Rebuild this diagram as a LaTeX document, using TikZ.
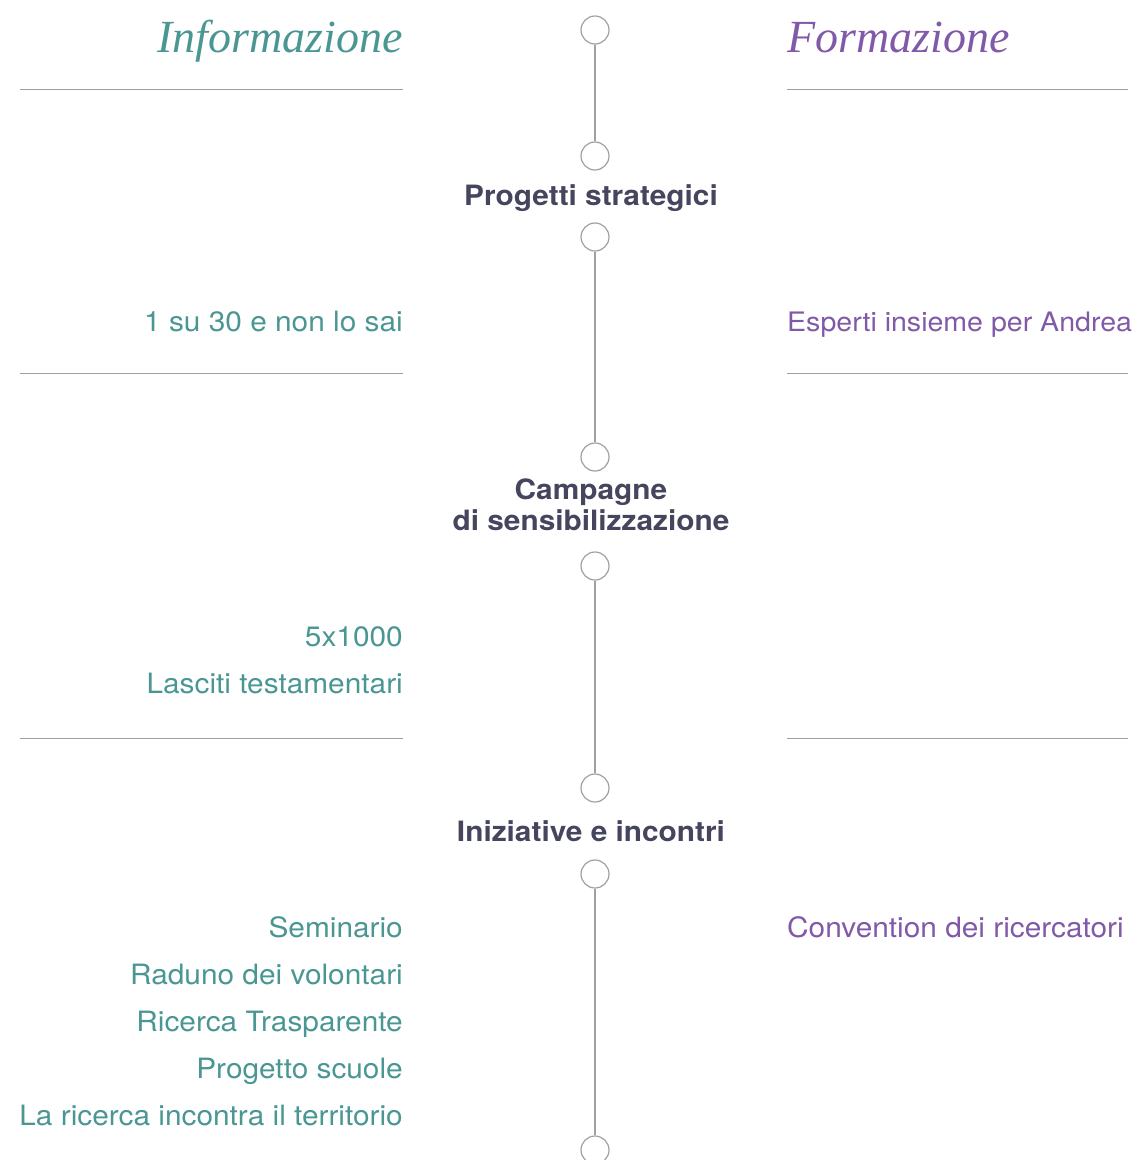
\documentclass[tikz,border=0pt]{standalone}
\usepackage{fontspec}
\setmainfont{TeX Gyre Heros}[FakeStretch=1.065]
\newfontfamily\titlefont{Liberation Serif}
\usepackage{tikz}

\definecolor{infocol}{HTML}{4A9693}
\definecolor{formcol}{HTML}{8059A8}
\definecolor{headcol}{HTML}{45465E}
\definecolor{rulecol}{HTML}{A0A0A0}

\begin{document}
\begin{tikzpicture}[x=1pt, y=-1pt,
  dot/.style={circle, draw=rulecol, line width=1.2pt, fill=white, minimum size=28pt, inner sep=0pt},
  link/.style={draw=rulecol, line width=1.2pt},
  sep/.style={draw=rulecol, line width=1pt},
  title/.style={font=\titlefont\itshape\fontsize{46}{50}\selectfont, inner sep=0pt},
  head/.style={font=\bfseries\fontsize{28}{31}\selectfont, text=headcol, align=center, inner sep=0pt},
  info/.style={font=\fontsize{28}{31}\selectfont, text=infocol, anchor=base east, inner sep=0pt},
  form/.style={font=\fontsize{28}{31}\selectfont, text=formcol, anchor=base west, inner sep=0pt}]
  \useasboundingbox (0,0) rectangle (1141,1160);

  % titles
  \node[title, text=infocol, anchor=base east] (info) at (403,52) {Informazione};
  \node[title, text=formcol, anchor=base west] (form) at (787,52) {Formazione};

  % separators
  \coordinate (l1a) at (20,89);  \coordinate (l1b) at (403,89);
  \coordinate (r1a) at (787,89); \coordinate (r1b) at (1128,89);
  \coordinate (l2a) at (20,373);  \coordinate (l2b) at (403,373);
  \coordinate (r2a) at (787,373); \coordinate (r2b) at (1128,373);
  \coordinate (l3a) at (20,738);  \coordinate (l3b) at (403,738);
  \coordinate (r3a) at (787,738); \coordinate (r3b) at (1128,738);
  \draw[sep] (l1a)--(l1b); \draw[sep] (r1a)--(r1b);
  \draw[sep] (l2a)--(l2b); \draw[sep] (r2a)--(r2b);
  \draw[sep] (l3a)--(l3b); \draw[sep] (r3a)--(r3b);

  % timeline
  \node[dot] (0) at (595,30) {};
  \node[dot] (1) at (595,156) {};
  \node[dot] (2) at (595,237) {};
  \node[dot] (3) at (595,457) {};
  \node[dot] (4) at (595,566) {};
  \node[dot] (5) at (595,788) {};
  \node[dot] (6) at (595,874) {};
  \node[dot] (7) at (595,1150) {};
  \draw[link] (0)--(1); \draw[link] (2)--(3); \draw[link] (4)--(5); \draw[link] (6)--(7);

  % section heads
  \node[head, anchor=base] (strat) at (591,205) {Progetti strategici};
  \node[head, anchor=base] (camp) at (591,530) {Campagne\\di sensibilizzazione};
  \node[head, anchor=base] (inic) at (591,841) {Iniziative e incontri};

  % items
  \node[info] (i1) at (403,331) {1 su 30 e non lo sai};
  \node[form, font=\fontsize{26.8}{31}\selectfont] (f1) at (787,331) {Esperti insieme per Andrea};
  \node[info] (i2) at (403,646) {5x1000};
  \node[info] (i3) at (403,693) {Lasciti testamentari};
  \node[info] (i4) at (403,937) {Seminario};
  \node[info] (i5) at (403,984) {Raduno dei volontari};
  \node[info] (i6) at (403,1031) {Ricerca Trasparente};
  \node[info] (i7) at (403,1078) {Progetto scuole};
  \node[info] (i8) at (403,1125) {La ricerca incontra il territorio};
  \node[form] (f2) at (787,937) {Convention dei ricercatori};
\end{tikzpicture}
\end{document}
